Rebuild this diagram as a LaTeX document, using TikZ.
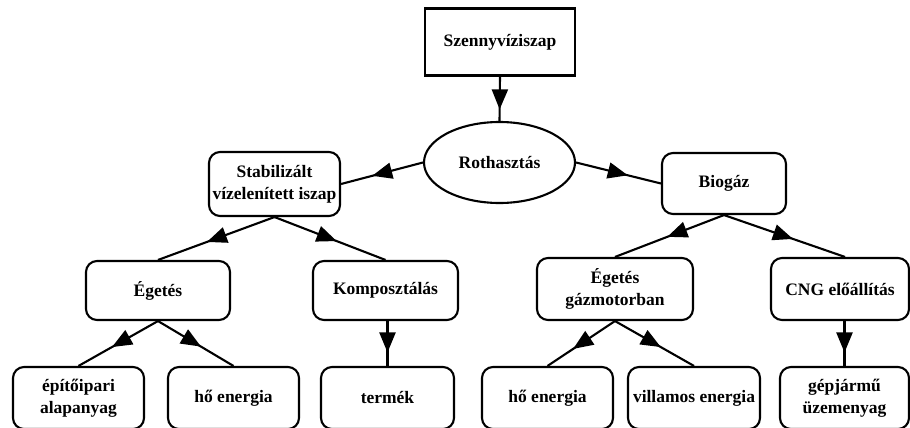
\documentclass[tikz,border=0pt]{standalone}
\usepackage{fontspec}
\setmainfont{Liberation Serif}
\usetikzlibrary{shapes.geometric,arrows.meta,decorations.markings}
\tikzset{
  base/.style={draw=black, line width=2.1pt, inner sep=0pt, align=center,
    font=\rmfamily\bfseries\fontsize{17.5pt}{22pt}\selectfont},
  rbox/.style={base, rectangle, rounded corners=11pt},
  sbox/.style={base, rectangle},
  ebox/.style={base, ellipse},
  conn/.style={line width=2.1pt, draw=black},
  midarrow/.style={postaction=decorate, decoration={markings,
    mark=at position #1 with {\arrow{Triangle[length=20pt,width=16pt]}}}}
}
\begin{document}
\begin{tikzpicture}[x=1pt,y=-1pt]
\useasboundingbox (0,0) rectangle (910,428);
\clip (0,0) rectangle (910,428);
\fill[white] (0,0) rectangle (910,428);

\node[sbox, minimum width=150pt, minimum height=67pt] (sz) at (500,42) {Szennyvíziszap};
\node[ebox, minimum width=151pt, minimum height=81pt] (roth) at (499.5,162.5) {Rothasztás};
\node[rbox, minimum width=131pt, minimum height=64pt] (stab) at (274.5,184) {Stabilizált\\vízelenített iszap};
\node[rbox, minimum width=124pt, minimum height=61pt] (bio) at (724,183.5) {Biogáz};

\node[rbox, minimum width=144pt, minimum height=59pt] (eg1) at (158,290.5) {Égetés};
\node[rbox, minimum width=145pt, minimum height=59pt] (komp) at (385.5,290.5) {Komposztálás};
\node[rbox, minimum width=156pt, minimum height=62pt] (eg2) at (615,289) {Égetés\\gázmotorban};
\node[rbox, minimum width=138pt, minimum height=62pt] (cng) at (840,289) {CNG előállítás};

\node[rbox, minimum width=131pt, minimum height=62pt] (b1) at (78.5,398) {építőipari\\alapanyag};
\node[rbox, minimum width=131pt, minimum height=62pt] (b2) at (233.5,398) {hő energia};
\node[rbox, minimum width=133pt, minimum height=62pt] (b3) at (387.5,398) {termék};
\node[rbox, minimum width=131pt, minimum height=62pt] (b4) at (547.5,398) {hő energia};
\node[rbox, minimum width=132pt, minimum height=62pt] (b5) at (694,398) {villamos energia};
\node[rbox, minimum width=129pt, minimum height=62pt] (b6) at (844.5,398) {gépjármű\\üzemenyag};

\draw[conn, midarrow=0.74] (sz.south) -- (roth.north);
\draw[conn, midarrow=0.62] (roth.west) -- (stab.east);
\draw[conn, midarrow=0.61] (roth.east) -- (bio.west);

\draw[conn, midarrow=0.58] (stab.south) -- (eg1.north);
\draw[conn, midarrow=0.56] (stab.south) -- (komp.north);
\draw[conn, midarrow=0.52] (bio.south) -- (eg2.north);
\draw[conn, midarrow=0.57] (bio.south) -- ([xshift=5pt]cng.north);

\draw[conn, midarrow=0.58] (eg1.south) -- (b1.north);
\draw[conn, midarrow=0.57] (eg1.south) -- (b2.north);
\draw[conn, midarrow=0.70] (komp.south -| b3.north) -- (b3.north);
\draw[conn, midarrow=0.62] (eg2.south) -- (b4.north);
\draw[conn, midarrow=0.58] (eg2.south) -- (b5.north);
\draw[conn, midarrow=0.70] (cng.south -| b6.north) -- (b6.north);
\end{tikzpicture}
\end{document}
